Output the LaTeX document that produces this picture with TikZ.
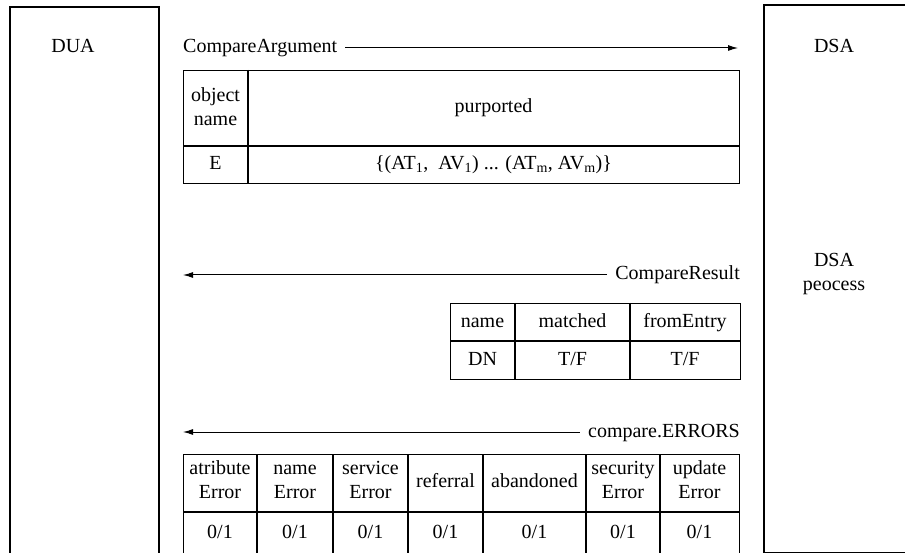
\documentclass[tikz,border=0pt]{standalone}
\usepackage{fontspec}
\setmainfont{Liberation Serif}
\usetikzlibrary{arrows.meta}
\tikzset{
  outerbox/.style={draw, line width=2.4pt, rectangle, inner sep=0pt},
  tablebox/.style={draw, line width=1.1pt, rectangle, inner sep=0pt},
  rule/.style={line width=1.1pt},
  msg/.style={line width=1pt, -{Latex[length=10pt,width=6pt]}},
  txt/.style={font=\fontsize{20}{24}\selectfont, inner sep=0pt, align=center},
  one/.style={txt, text height=14pt, text depth=4pt},
}
\newcommand{\tl}[2]{\strut #1\\\strut #2}
\begin{document}
\begin{tikzpicture}[x=1pt,y=-1pt]
\useasboundingbox (0,0) rectangle (905,553);
\clip (0,0) rectangle (905,553);
% agents
\node[outerbox, minimum width=149pt, minimum height=594pt, anchor=north west] (duabox) at (9,6) {};
\node[outerbox, minimum width=160pt, minimum height=548pt, anchor=north west] (dsabox) at (763,4) {};
\node[one] (dua) at (73,48) {DUA};
\node[one] (dsa) at (834,48) {DSA};
\node[txt] (dsap) at (834,274) {\tl{DSA}{peocess}};

% CompareArgument
\node[one, anchor=west] (carg) at (183,48) {CompareArgument};
\coordinate (cargend) at (738,48);
\draw[msg] (carg.east) ++(8,0) -- (cargend);

\node[tablebox, minimum width=556pt, minimum height=113pt, anchor=north west] (t1) at (183,70) {};
\draw[rule] (183,146) -- (739,146);
\draw[rule] (248,70) -- (248,183);
\node[txt] (t1a) at (215.5,109) {\tl{object}{name}};
\node[one] (t1b) at (493.5,108) {purported};
\node[one] (t1c) at (215.5,164.5) {E};
\node[one] (t1d) at (493.5,164.5) {\{(AT\textsubscript{1},\ \ AV\textsubscript{1}) ... (AT\textsubscript{m}, AV\textsubscript{m})\}};

% CompareResult
\node[one, anchor=east] (cres) at (740,275) {CompareResult};
\coordinate (cresend) at (183,275);
\draw[msg] (cres.west) ++(-8,0) -- (cresend);

\node[tablebox, minimum width=290pt, minimum height=76pt, anchor=north west] (t2) at (450,303) {};
\draw[rule] (450,341) -- (740,341);
\draw[rule] (515,303) -- (515,379);
\draw[rule] (630,303) -- (630,379);
\node[one] (t2a) at (482.5,322) {name};
\node[one] (t2b) at (572.5,322) {matched};
\node[one] (t2c) at (685,322) {fromEntry};
\node[one] (t2d) at (482.5,361) {DN};
\node[one] (t2e) at (572.5,361) {T/F};
\node[one] (t2f) at (685,361) {T/F};

% compare.ERRORS
\node[one, anchor=east] (cerr) at (740,432) {compare.ERRORS};
\coordinate (cerrend) at (183,432);
\draw[msg] (cerr.west) ++(-8,0) -- (cerrend);

\node[tablebox, minimum width=556pt, minimum height=150pt, anchor=north west] (t3) at (183,454) {};
\draw[rule] (183,512) -- (739,512);
\foreach \x in {257,333,408,483,586,660} \draw[rule] (\x,454) -- (\x,560);
\node[txt] (e1) at (220,482) {\tl{atribute}{Error}};
\node[txt] (e2) at (295,482) {\tl{name}{Error}};
\node[txt] (e3) at (370.5,482) {\tl{service}{Error}};
\node[one] (e4) at (445.5,482) {referral};
\node[one] (e5) at (534.5,482) {abandoned};
\node[txt] (e6) at (623,482) {\tl{security}{Error}};
\node[txt] (e7) at (699.5,482) {\tl{update}{Error}};
\foreach \x/\n in {220/v1,295/v2,370.5/v3,445.5/v4,534.5/v5,623/v6,699.5/v7}
  \node[one] (\n) at (\x,533) {0/1};
\end{tikzpicture}
\end{document}
